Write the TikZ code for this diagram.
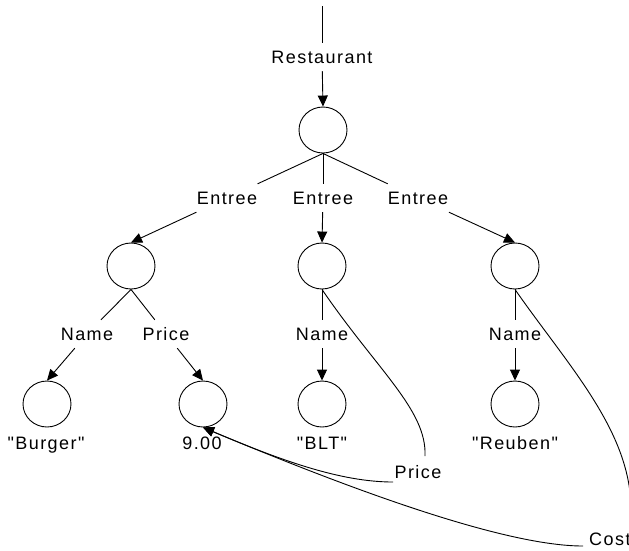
\documentclass[tikz,border=0pt]{standalone}
\usepackage{fontspec}
\setmainfont{Liberation Sans}[LetterSpace=8, Ligatures=TeXOff]
\usetikzlibrary{arrows.meta,shapes.geometric}
\tikzset{
  obj/.style={draw, ellipse, minimum width=48pt, minimum height=46pt, inner sep=0pt, line width=0.9pt},
  lbl/.style={inner xsep=3pt, inner ysep=0pt, minimum height=28pt, text height=12.9pt, text depth=0pt, font=\fontsize{18pt}{20pt}\selectfont},
  val/.style={inner sep=0pt, text height=12.9pt, text depth=0pt, font=\fontsize{18pt}{20pt}\selectfont},
  edge/.style={line width=0.9pt},
  arr/.style={line width=0.9pt, -{Triangle[length=11pt,width=10pt]}}
}
\begin{document}
\begin{tikzpicture}[x=1pt,y=-1pt]
\useasboundingbox (0,0) rectangle (629,550);
\clip (0,0) rectangle (629,550);
% objects
\node[obj] (root) at (323,130) {};
\node[obj] (c1) at (131,266) {};
\node[obj] (c2) at (322,266) {};
\node[obj] (c3) at (515,266) {};
\node[obj] (c4) at (47,404) {};
\node[obj] (c5) at (203,404) {};
\node[obj] (c6) at (322,404) {};
\node[obj] (c7) at (515,404) {};
% labels
\node[lbl] (rest) at (322,57) {Restaurant};
\node[lbl] (e1) at (227,198) {Entree};
\node[lbl] (e2) at (323,198) {Entree};
\node[lbl] (e3) at (418,198) {Entree};
\node[lbl] (n1) at (87,334) {Name};
\node[lbl] (pr1) at (166,334) {Price};
\node[lbl] (n2) at (322,334) {Name};
\node[lbl] (n3) at (515,334) {Name};
% values
\node[val] (v4) at (46,443) {"Burger"};
\node[val] (v5) at (202,443) {9.00};
\node[val] (v6) at (322,443) {"BLT"};
\node[val] (v7) at (515,443) {"Reuben"};
\node[val] (pr2) at (418,472) {Price};
\node[val, anchor=west] (cost) at (589,539) {Cost};
% connector ends
\coordinate (top) at (322,6);
\coordinate (pr2in) at (425,456);
\coordinate (pr2out) at (393,482);
\coordinate (costin) at (630,526);
\coordinate (costout) at (583,546);
% edges
\draw[edge] (top) -- (rest);
\draw[arr] (rest) -- (root.north);
\draw[edge] (root.south) -- (e1);
\draw[edge] (root.south) -- (e2);
\draw[edge] (root.south) -- (e3);
\draw[arr] (e1) -- (c1.north);
\draw[arr] (e2) -- (c2.north);
\draw[arr] (e3) -- (c3.north);
\draw[edge] (c1.south) -- (n1);
\draw[edge] (c1.south) -- (pr1);
\draw[arr] (n1) -- (c4.north);
\draw[arr] (pr1) -- (c5.north);
\draw[edge] (c2.south) -- (n2);
\draw[arr] (n2) -- (c6.north);
\draw[edge] (c3.south) -- (n3);
\draw[arr] (n3) -- (c7.north);
% shared price / cost
\draw[edge] (c2.south) .. controls (377,370) and (427,410) .. (pr2in);
\draw[arr] (pr2out) .. controls (340,482) and (280,460) .. (c5.south);
\draw[edge] (c3.south) .. controls (571,370) and (640,440) .. (costin);
\draw[arr] (costout) .. controls (520,546) and (400,510) .. (c5.south);
\end{tikzpicture}
\end{document}
